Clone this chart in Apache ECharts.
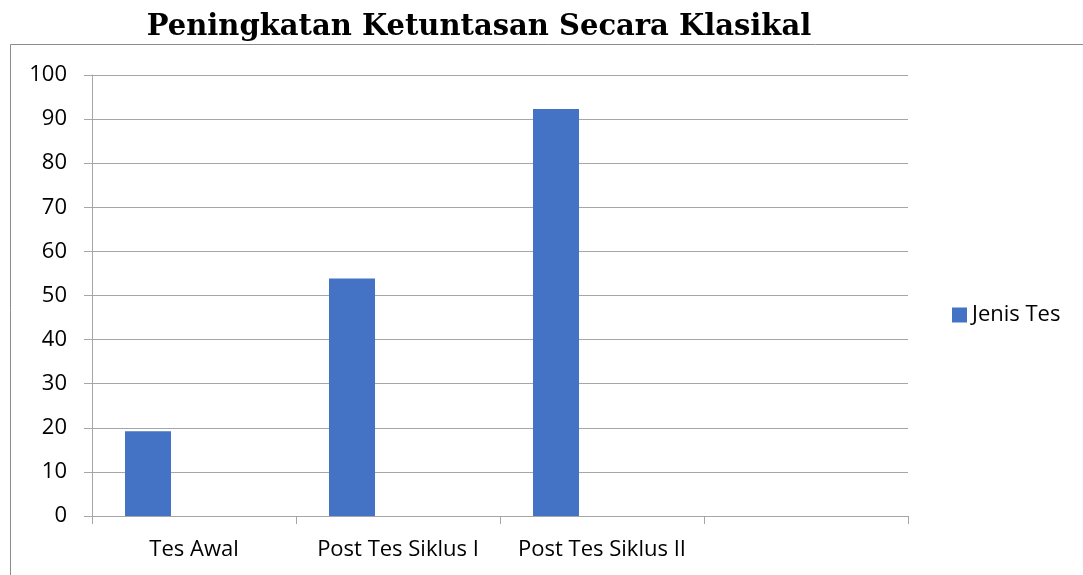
<!DOCTYPE html>
<html>
<head>
<meta charset="utf-8" />
<title>Peningkatan Ketuntasan Secara Klasikal</title>
<script src="https://cdn.jsdelivr.net/npm/echarts@6/dist/echarts.min.js"></script>
<style>
	html, body { margin: 0; padding: 0; background: #fff; }
	#chart { width: 1083px; height: 575px; }
</style>
</head>
<body>
<div id="chart"></div>
<script type="text/javascript">
	// data
	var categories = ['Tes Awal', 'Post Tes Siklus I', 'Post Tes Siklus II', ''];
	var jenisTes = [19.23, 53.85, 92.31, null];
	var emptySeries = [null, null, null, null];
	var yTicks = { min: 0, max: 100, interval: 10 };

	var myChart = echarts.init(document.getElementById('chart'));
	var labelFont = '"Open Sans", "Noto Sans", sans-serif';
	var option = {
		animation: false,
		title: {
			text: 'Peningkatan Ketuntasan Secara Klasikal',
			left: 474,
			textAlign: 'center',
			top: 8,
			textStyle: {
				fontFamily: '"DejaVu Serif", serif',
				fontWeight: 'bold',
				fontSize: 29,
				color: '#000'
			}
		},
		graphic: [{
			type: 'rect',
			shape: { x: 10.5, y: 44.5, width: 1200, height: 600 },
			style: { fill: 'none', stroke: '#8c8c8c', lineWidth: 1 },
			silent: true
		}],
		legend: {
			data: ['Jenis Tes'],
			left: 947,
			top: 299,
			itemWidth: 15,
			itemHeight: 15,
			icon: 'rect',
			textStyle: { fontFamily: labelFont, fontSize: 22, color: '#000' }
		},
		grid: { left: 92, right: 175, top: 75, bottom: 59 },
		xAxis: {
			type: 'category',
			data: categories,
			axisLine: { lineStyle: { color: '#a6a6a6' } },
			axisTick: { show: true, interval: 0, length: 8, lineStyle: { color: '#a6a6a6' } },
			axisLabel: { interval: 0, hideOverlap: false, fontFamily: labelFont, fontSize: 22, color: '#000', margin: 23 }
		},
		yAxis: {
			type: 'value',
			min: yTicks.min,
			max: yTicks.max,
			interval: yTicks.interval,
			axisLine: { show: true, lineStyle: { color: '#a6a6a6' } },
			axisTick: { show: true, length: 8, lineStyle: { color: '#a6a6a6' } },
			splitLine: { lineStyle: { color: '#a6a6a6' } },
			axisLabel: { fontFamily: labelFont, fontSize: 22, color: '#000', margin: 25 }
		},
		series: [
			{ name: 'Jenis Tes', type: 'bar', data: jenisTes, barWidth: 46, barGap: 0, itemStyle: { color: '#4472C4' } },
			{ name: 's2', type: 'bar', data: emptySeries, barWidth: 46, barGap: 0 },
			{ name: 's3', type: 'bar', data: emptySeries, barWidth: 46, barGap: 0 }
		]
	};
	myChart.setOption(option);
</script>
</body>
</html>
